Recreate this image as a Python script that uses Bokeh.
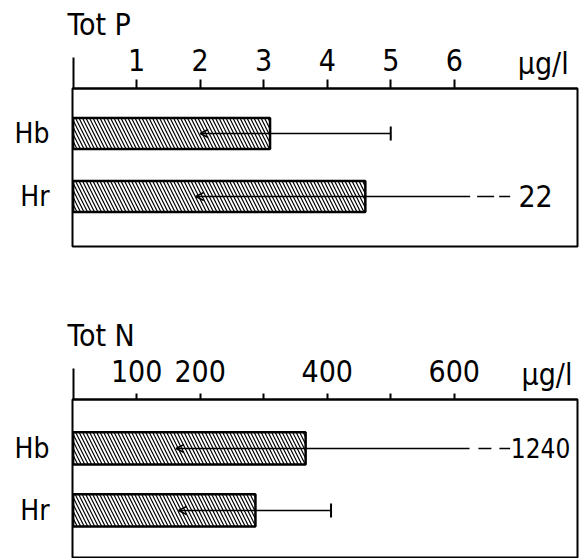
from bokeh.plotting import figure
from bokeh.layouts import column
from bokeh.models import (Range1d, FixedTicker, Arrow, OpenHead, TeeHead,
                          LinearAxis)
from bokeh.core.properties import value
from bokeh.embed import file_html
from bokeh.resources import INLINE

# ---------------- data ----------------
categories = ["Hb", "Hr"]

totp_mean = [3.1, 4.6]
totp_min = [2.0, 1.93]
totp_max = [5.0, 22]          # 22 is off scale (axis break)
totp_ticks = [1, 2, 3, 4, 5, 6]

totn_mean = [366, 287]
totn_min = [162, 166]
totn_max = [1240, 406]        # 1240 is off scale (axis break)
totn_ticks = [100, 200, 300, 400, 500, 600]
totn_tick_labels = {100: "100", 200: "200", 300: "", 400: "400", 500: "", 600: "600"}

unit_label = "µg/l"

FONT = "DejaVu Sans Condensed, Roboto"
ypos = [len(categories) - 1 - i for i in range(len(categories))]


def style(p, title, ticks, tick_out, standoff, unit_x, overrides=None):
    p.grid.visible = False
    p.outline_line_color = "black"
    p.outline_line_width = 2
    p.background_fill_color = "white"
    p.border_fill_color = "white"
    p.title.text = title
    p.title.align = "left"
    p.title.offset = -5
    p.title.standoff = 2
    p.title.text_font = FONT
    p.title.text_font_size = "30px"
    p.title.text_font_style = "normal"
    p.title.text_color = "black"
    xa = p.xaxis[0]
    xa.ticker = FixedTicker(ticks=ticks, minor_ticks=[0])
    if overrides:
        xa.major_label_overrides = overrides
    xa.axis_line_width = 2
    xa.major_tick_line_width = 2
    xa.major_tick_in = 0
    xa.major_tick_out = tick_out
    xa.minor_tick_in = 0
    xa.minor_tick_out = 31
    xa.minor_tick_line_width = 2
    xa.major_label_standoff = standoff
    xa.major_label_text_font = FONT
    xa.major_label_text_font_size = "30px"
    xa.major_label_text_color = "black"
    # unit label: a second, line-less axis whose only label sits in the tick-label row
    ua = LinearAxis(ticker=FixedTicker(ticks=[unit_x], minor_ticks=[]),
                    major_label_overrides={unit_x: unit_label},
                    axis_line_color=None, major_tick_line_color=None,
                    minor_tick_line_color=None, major_tick_in=0,
                    major_tick_out=0, major_label_standoff=-35,
                    major_label_text_font=FONT,
                    major_label_text_font_size="30px",
                    major_label_text_color="black")
    p.add_layout(ua, "above")
    ya = p.yaxis[0]
    ya.ticker = FixedTicker(ticks=ypos)
    ya.major_label_overrides = {y: c for y, c in zip(ypos, categories)}
    ya.axis_line_color = None
    ya.major_tick_line_color = None
    ya.minor_tick_line_color = None
    ya.major_tick_out = 0
    ya.major_label_standoff = 23
    ya.major_label_text_font = FONT
    ya.major_label_text_font_size = "28px"
    ya.major_label_text_color = "black"


def bars(p, means, h):
    p.hbar(y=ypos, left=0, right=means, height=h, fill_color="white",
           line_color="black", line_width=2.5, hatch_pattern="\\",
           hatch_scale=7, hatch_weight=1.2, hatch_color="black")


# ---------------- Tot P ----------------
p1 = figure(width=579, height=300, x_range=Range1d(-0.01, 7.94),
            y_range=Range1d(-0.794, 1.714), x_axis_location="above",
            output_backend="svg", toolbar_location=None,
            min_border_left=69, min_border_right=2, min_border_top=88,
            min_border_bottom=54)
style(p1, "Tot P", totp_ticks, 9, -13, 7.40)
bars(p1, totp_mean, 0.49)

P_BREAK = 6.25
P_DASH_END = 6.88
for y, lo, hi in zip(ypos, totp_min, totp_max):
    if hi <= p1.x_range.end:
        p1.add_layout(Arrow(x_start=hi, y_start=y, x_end=lo, y_end=y,
                            line_width=1.5,
                            start=TeeHead(size=14, line_width=2),
                            end=OpenHead(size=8, line_width=1.5)))
    else:
        p1.add_layout(Arrow(x_start=P_BREAK, y_start=y, x_end=lo, y_end=y,
                            line_width=1.5,
                            end=OpenHead(size=8, line_width=1.5)))
        p1.segment(x0=[P_BREAK + 0.11], x1=[P_DASH_END], y0=[y], y1=[y],
                   line_color="black", line_width=1.5, line_dash="17 5")
        p1.text(x=[P_DASH_END + 0.13], y=[y], text=[str(hi)],
                text_font=value(FONT), text_font_size="30px",
                text_baseline="middle", text_color="black")

# ---------------- Tot N ----------------
p2 = figure(width=579, height=258, x_range=Range1d(-1, 794),
            y_range=Range1d(-0.758, 1.79), x_axis_location="above",
            output_backend="svg", toolbar_location=None,
            min_border_left=72, min_border_right=2, min_border_top=99,
            min_border_bottom=1)
style(p2, "Tot N", totn_ticks, 6, -13, 746, totn_tick_labels)
bars(p2, totn_mean, 0.52)

N_BREAK = 624
N_DASH_END = 688
for y, lo, hi in zip(ypos, totn_min, totn_max):
    if hi <= p2.x_range.end:
        p2.add_layout(Arrow(x_start=hi, y_start=y, x_end=lo, y_end=y,
                            line_width=1.5,
                            start=TeeHead(size=14, line_width=2),
                            end=OpenHead(size=8, line_width=1.5)))
    else:
        p2.add_layout(Arrow(x_start=N_BREAK, y_start=y, x_end=lo, y_end=y,
                            line_width=1.5,
                            end=OpenHead(size=8, line_width=1.5)))
        p2.segment(x0=[N_BREAK + 14], x1=[N_DASH_END], y0=[y], y1=[y],
                   line_color="black", line_width=1.5, line_dash="13 8")
        p2.text(x=[N_DASH_END + 1], y=[y], text=[str(hi)],
                text_font=value(FONT), text_font_size="26px",
                text_baseline="middle", text_color="black")

layout = column(p1, p2, spacing=0)
open("out.html", "w").write(file_html(layout, INLINE))
